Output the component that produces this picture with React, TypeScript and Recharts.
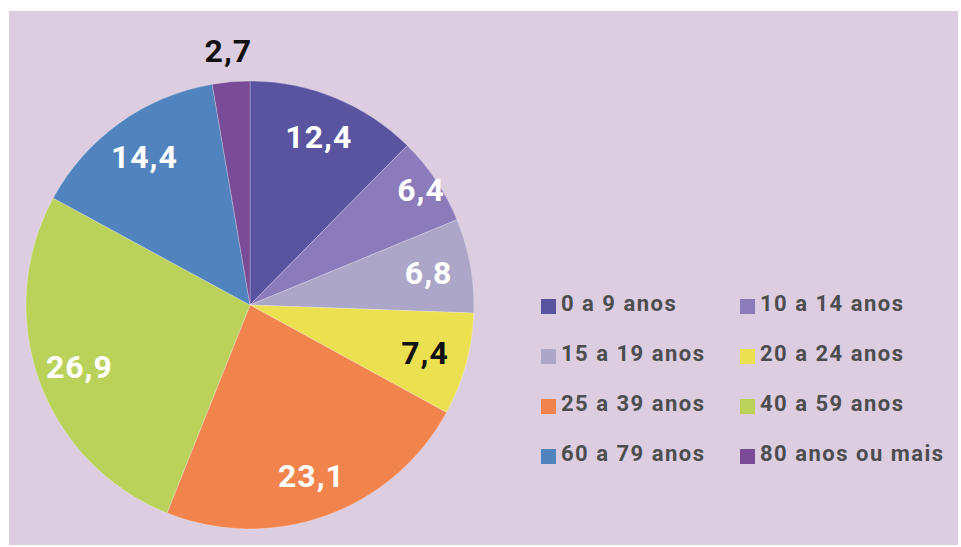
import React from "react";
import { PieChart, Pie, Cell, Legend } from "recharts";

const AGE_GROUPS = [
  "0 a 9 anos",
  "10 a 14 anos",
  "15 a 19 anos",
  "20 a 24 anos",
  "25 a 39 anos",
  "40 a 59 anos",
  "60 a 79 anos",
  "80 anos ou mais",
];
const SHARES = [12.4, 6.4, 6.8, 7.4, 23.1, 26.9, 14.4, 2.7];
const SLICE_COLORS = [
  "#5a54a0",
  "#8b7bbb",
  "#aca7c8",
  "#ebe150",
  "#f0844c",
  "#bbd25a",
  "#5183be",
  "#7a4c97",
];
const DARK_LABELS = [3, 7];

const data = AGE_GROUPS.map((name, i) => ({ name, value: SHARES[i] }));

const RADIAN = Math.PI / 180;
const PANEL = "#dccde1";
const FONT = "Roboto, 'DejaVu Sans', sans-serif";

const renderLabel = (props: any) => {
  const { cx, cy, midAngle, outerRadius, index, value } = props;
  let r = outerRadius * 0.81;
  if (value < 5) r = outerRadius + 31;
  else if (index === 1) r = outerRadius * 0.92;
  const x = cx + r * Math.cos(-midAngle * RADIAN);
  const y = cy + r * Math.sin(-midAngle * RADIAN);
  return (
    <text
      x={x}
      y={y}
      textAnchor="middle"
      dominantBaseline="central"
      fill={DARK_LABELS.includes(index) ? "#111" : "#fff"}
      style={{ fontFamily: FONT, fontWeight: 700, fontSize: 32, letterSpacing: 1 }}
    >
      {value.toFixed(1).replace(".", ",")}
    </text>
  );
};

const renderLegend = () => (
  <div
    style={{
      display: "grid",
      gridTemplateColumns: "199px 220px",
      rowGap: 0,
    }}
  >
    {data.map((d, i) => (
      <div
        key={d.name}
        style={{ display: "flex", alignItems: "center", height: 50 }}
      >
        <span
          style={{
            width: 15,
            height: 15,
            background: SLICE_COLORS[i],
            marginRight: 5,
            flex: "none",
          }}
        />
        <span
          style={{
            fontFamily: FONT,
            fontWeight: 700,
            fontSize: 22,
            letterSpacing: 1.5,
            color: "#4d4d50",
            lineHeight: 1,
            whiteSpace: "nowrap",
            marginTop: -4,
          }}
        >
          {d.name}
        </span>
      </div>
    ))}
  </div>
);

export default function App() {
  return (
    <div
      style={{
        position: "fixed",
        left: 0,
        top: 0,
        width: 961,
        height: 547,
        background: "#fff",
      }}
    >
      <div
        style={{
          position: "absolute",
          left: 9,
          top: 11,
          width: 949,
          height: 534,
          background: PANEL,
        }}
      >
        <PieChart
          width={949}
          height={534}
          margin={{ top: 0, right: 0, bottom: 0, left: 0 }}
        >
          <Pie
            data={data}
            dataKey="value"
            nameKey="name"
            cx={241}
            cy={294}
            outerRadius={224}
            startAngle={90}
            endAngle={-270}
            label={renderLabel}
            labelLine={false}
            stroke="rgba(255,255,255,0.25)"
            strokeWidth={1}
            isAnimationActive={false}
          >
            {data.map((d, i) => (
              <Cell key={d.name} fill={SLICE_COLORS[i]} />
            ))}
          </Pie>
          <Legend
            content={renderLegend}
            wrapperStyle={{ left: 532, top: 270, width: 420 }}
          />
        </PieChart>
      </div>
    </div>
  );
}
